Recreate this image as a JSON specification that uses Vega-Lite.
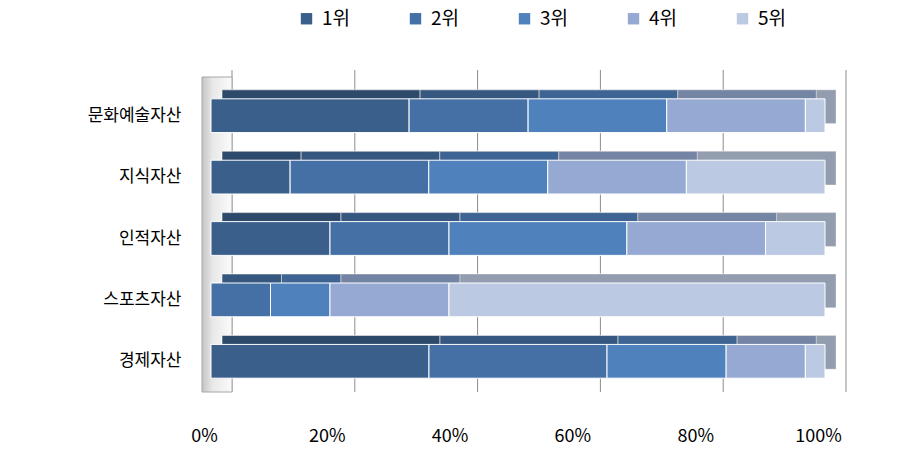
{
  "$schema": "https://vega.github.io/schema/vega-lite/v6.json",
  "width": 614,
  "height": 307,
  "autosize": {"type": "none"},
  "padding": {"left": 211, "top": 85, "right": 88, "bottom": 72},
  "background": "white",
  "config": {
    "view": {"stroke": null},
    "font": "Noto Sans CJK KR",
    "legend": {
      "orient": "none",
      "legendX": 86,
      "legendY": -76,
      "direction": "horizontal",
      "title": null,
      "symbolType": "square",
      "symbolSize": 130,
      "symbolStrokeWidth": 0,
      "labelFontSize": 19,
      "labelColor": "#000000",
      "labelOffset": 6,
      "columnPadding": 55
    }
  },
  "datasets": {
    "ranks": [
      {"asset": "문화예술자산", "rank": "1위", "pct": 32.3},
      {"asset": "문화예술자산", "rank": "2위", "pct": 19.4},
      {"asset": "문화예술자산", "rank": "3위", "pct": 22.6},
      {"asset": "문화예술자산", "rank": "4위", "pct": 22.6},
      {"asset": "문화예술자산", "rank": "5위", "pct": 3.2},
      {"asset": "지식자산", "rank": "1위", "pct": 12.9},
      {"asset": "지식자산", "rank": "2위", "pct": 22.6},
      {"asset": "지식자산", "rank": "3위", "pct": 19.4},
      {"asset": "지식자산", "rank": "4위", "pct": 22.6},
      {"asset": "지식자산", "rank": "5위", "pct": 22.6},
      {"asset": "인적자산", "rank": "1위", "pct": 19.4},
      {"asset": "인적자산", "rank": "2위", "pct": 19.4},
      {"asset": "인적자산", "rank": "3위", "pct": 29.0},
      {"asset": "인적자산", "rank": "4위", "pct": 22.6},
      {"asset": "인적자산", "rank": "5위", "pct": 9.7},
      {"asset": "스포츠자산", "rank": "2위", "pct": 9.7},
      {"asset": "스포츠자산", "rank": "3위", "pct": 9.7},
      {"asset": "스포츠자산", "rank": "4위", "pct": 19.4},
      {"asset": "스포츠자산", "rank": "5위", "pct": 61.3},
      {"asset": "경제자산", "rank": "1위", "pct": 35.5},
      {"asset": "경제자산", "rank": "2위", "pct": 29.0},
      {"asset": "경제자산", "rank": "3위", "pct": 19.4},
      {"asset": "경제자산", "rank": "4위", "pct": 12.9},
      {"asset": "경제자산", "rank": "5위", "pct": 3.2}
    ],
    "grid": [{"g": 0}, {"g": 0.2}, {"g": 0.4}, {"g": 0.6}, {"g": 0.8}, {"g": 1}]
  },
  "layer": [
    {
      "data": {"name": "grid"},
      "mark": {"type": "rule", "color": "#8c8c8c", "strokeWidth": 1, "xOffset": 21, "yOffset": -15, "y2Offset": -15},
      "encoding": {
        "x": {
          "field": "g",
          "type": "quantitative",
          "scale": {"domain": [0, 1]},
          "axis": {
            "title": null,
            "format": ".0%",
            "values": [0, 0.2, 0.4, 0.6, 0.8, 1],
            "grid": false,
            "domain": false,
            "ticks": false,
            "labelFlush": false,
            "labelOffset": -7,
            "labelPadding": 35,
            "labelFontSize": 18,
            "labelColor": "#000000"
          }
        }
      }
    },
    {
      "data": {"name": "grid"},
      "transform": [{"filter": "datum.g == 0"}],
      "mark": {
        "type": "rect",
        "xOffset": -9,
        "x2Offset": 21,
        "yOffset": -8,
        "y2Offset": 6,
        "stroke": "#a6a6a6",
        "strokeWidth": 1,
        "fill": {
          "gradient": "linear",
          "x1": 0, "y1": 0, "x2": 1, "y2": 0,
          "stops": [
            {"offset": 0, "color": "#c4c4c4"},
            {"offset": 0.35, "color": "#e8e8e8"},
            {"offset": 1, "color": "#fbfbfb"}
          ]
        }
      },
      "encoding": {
        "x": {"field": "g", "type": "quantitative"},
        "x2": {"field": "g"}
      }
    },
    {
      "data": {"name": "ranks"},
      "mark": {"type": "bar", "xOffset": 11, "x2Offset": 11, "yOffset": -9, "y2Offset": -9, "stroke": "#ffffff", "strokeWidth": 0.8},
      "encoding": {
        "x": {"field": "pct", "type": "quantitative", "stack": "normalize"},
        "y": {"field": "asset", "type": "nominal", "sort": ["문화예술자산", "지식자산", "인적자산", "스포츠자산", "경제자산"]},
        "color": {"field": "rank", "type": "nominal"},
        "order": {"field": "rank"}
      }
    },
    {
      "data": {"name": "ranks"},
      "mark": {"type": "bar", "xOffset": 11, "x2Offset": 11, "yOffset": -9, "y2Offset": -9, "color": "#000000", "opacity": 0.22},
      "encoding": {
        "x": {"field": "pct", "type": "quantitative", "stack": "normalize"},
        "y": {"field": "asset", "type": "nominal", "sort": ["문화예술자산", "지식자산", "인적자산", "스포츠자산", "경제자산"]},
        "detail": {"field": "rank"},
        "order": {"field": "rank"}
      }
    },
    {
      "data": {"name": "ranks"},
      "mark": {"type": "bar", "stroke": "#ffffff", "strokeWidth": 1},
      "encoding": {
        "x": {
          "field": "pct",
          "type": "quantitative",
          "stack": "normalize"
        },
        "y": {
          "field": "asset",
          "type": "nominal",
          "sort": ["문화예술자산", "지식자산", "인적자산", "스포츠자산", "경제자산"],
          "scale": {"paddingInner": 0.45, "paddingOuter": 0.225},
          "axis": {
            "title": null,
            "domain": false,
            "ticks": false,
            "labelPadding": 30,
            "labelFontSize": 17,
            "labelColor": "#000000"
          }
        },
        "color": {
          "field": "rank",
          "type": "nominal",
          "scale": {
            "domain": ["1위", "2위", "3위", "4위", "5위"],
            "range": ["#3A5F8B", "#4470A5", "#4F81BD", "#95A9D2", "#BCC9E2"]
          }
        },
        "order": {"field": "rank"}
      }
    }
  ]
}
